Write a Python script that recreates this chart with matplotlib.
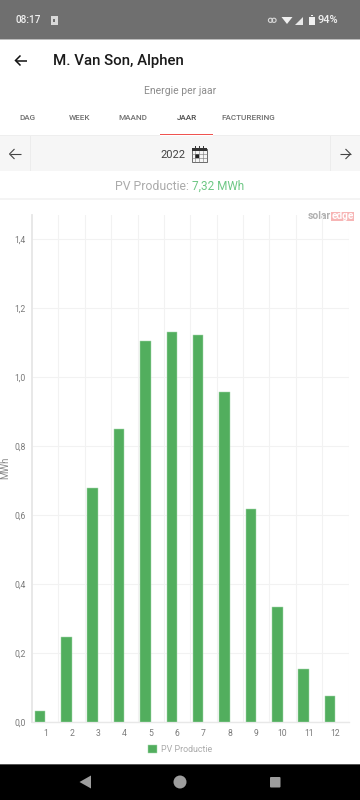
#!/usr/bin/env python3
"""Phone screenshot of the yearly PV production bar chart."""

import matplotlib
matplotlib.use("Agg")
import matplotlib.pyplot as plt
from matplotlib.patches import Rectangle, Circle, Polygon, FancyBboxPatch

plt.rcParams["font.family"] = ["Roboto", "DejaVu Sans"]

MONTHS = [1, 2, 3, 4, 5, 6, 7, 8, 9, 10, 11, 12]
PV_MWH = [0.034, 0.247, 0.68, 0.85, 1.106, 1.13, 1.123, 0.957, 0.619, 0.334, 0.156, 0.077]
Y_TICKS = [0.0, 0.2, 0.4, 0.6, 0.8, 1.0, 1.2, 1.4]
Y_LABELS = ["0,0", "0,2", "0,4", "0,6", "0,8", "1,0", "1,2", "1,4"]
TABS = ["DAG", "WEEK", "MAAND", "JAAR", "FACTURERING"]
TAB_X = [27, 80, 133, 187, 248.5]

GREEN = "#52AE5E"
GRID = "#F2F2F2"


def arrow(ui, x0, x1, y, color, lw, head=5):
    """Flat material style arrow from x0 to x1, tip at x1."""
    d = head if x1 < x0 else -head
    ui.plot([x0, x1], [y, y], color=color, lw=lw, solid_capstyle="butt")
    ui.plot([x1 + d, x1, x1 + d], [y - head, y, y + head], color=color, lw=lw,
            solid_joinstyle="miter", solid_capstyle="butt")


def draw_chrome(ui):
    # status bar
    ui.add_patch(Rectangle((0, 0), 360, 39, fc="#6F6F6F", ec="none"))
    ui.add_patch(Rectangle((0, 39), 360, 1, fc="#BDBDBD", ec="none"))
    ui.text(16, 20, "08:17", color="#F0F0F0", fontsize=7.2, va="center", weight="medium")
    ui.add_patch(Rectangle((50.5, 16), 7, 8.5, fc="#D8D8D8", ec="none"))
    ui.add_patch(Rectangle((53, 19), 2, 2.5, fc="#6F6F6F", ec="none"))
    # link, wifi, signal, battery
    ui.add_patch(Circle((270.5, 20.3), 2.1, fc="none", ec="#D8D8D8", lw=0.8))
    ui.add_patch(Circle((274, 20.3), 2.1, fc="none", ec="#D8D8D8", lw=0.8))
    ui.add_patch(Polygon([[281.5, 17], [292.5, 17], [287, 24]], fc="#F0F0F0", ec="none"))
    ui.add_patch(Polygon([[295, 24.5], [303, 24.5], [303, 16.5]], fc="#E8E8E8", ec="none"))
    ui.add_patch(Rectangle((309, 16.5), 5.5, 8, fc="#F0F0F0", ec="none"))
    ui.add_patch(Rectangle((310.5, 15.3), 2.5, 1.2, fc="#F0F0F0", ec="none"))
    ui.text(317.5, 20, "94%", color="#F0F0F0", fontsize=8, va="center", weight="medium")

    # header
    arrow(ui, 26.5, 15.5, 60.5, "#111111", 1.1)
    ui.text(53, 60.5, "M. Van Son, Alphen", color="#1A1A1A", fontsize=10.8, va="center", weight="medium")
    ui.text(180, 90.5, "Energie per jaar", color="#8C8C8C", fontsize=7.5, ha="center", va="center")

    # tabs
    for x, tab in zip(TAB_X, TABS):
        c = "#4A4A4A" if tab == "JAAR" else "#6E6E6E"
        ui.text(x, 117.7, tab, color=c, fontsize=5.9, ha="center", va="center", weight="medium")
    ui.add_patch(Rectangle((160, 133.5), 53, 1.5, fc="#EF5350", ec="none"))

    # date row
    ui.add_patch(Rectangle((0, 136), 360, 35, fc="#F6F6F6", ec="none"))
    ui.add_patch(Rectangle((0, 135), 160, 1, fc="#EEEEEE", ec="none"))
    ui.add_patch(Rectangle((213, 135), 147, 1, fc="#EEEEEE", ec="none"))
    for x in (29.5, 329.5):
        ui.add_patch(Rectangle((x, 136), 1.5, 35, fc="#ECECEC", ec="none"))
    arrow(ui, 20.5, 9.5, 154, "#444444", 0.8)
    arrow(ui, 339.5, 350.5, 154, "#444444", 0.8)
    ui.text(173, 154.5, "2022", color="#444444", fontsize=8, ha="center", va="center")
    # calendar icon
    ui.add_patch(Rectangle((191.5, 149), 15, 12.5, fc="#F6F6F6", ec="#555555", lw=0.6))
    ui.add_patch(Rectangle((191.5, 147.5), 15, 3.5, fc="#333333", ec="none"))
    for x in (195, 199, 203):
        ui.plot([x, x], [151, 161.5], color="#777777", lw=0.4)
        ui.plot([x, x], [146, 148], color="#333333", lw=0.7)
    for y in (154, 157.5):
        ui.plot([191.5, 206.5], [y, y], color="#777777", lw=0.4)
    ui.add_patch(Rectangle((195, 154), 4, 3.5, fc="#222222", ec="none"))

    # total
    ui.text(189.2, 186, "PV Productie:", color="#ABABAB", fontsize=8.8, ha="right", va="center")
    ui.text(191.5, 186, "7,32 MWh", color="#6DC784", fontsize=8.5, ha="left", va="center")
    ui.add_patch(Rectangle((0, 198), 360, 1.5, fc="#F4F4F4", ec="none"))

    # logo
    ui.text(331, 216, "solar", color="#B0B0B0", fontsize=7.4, ha="right", va="center", weight="bold")
    ui.add_patch(Rectangle((331, 211.5), 23, 9.5, fc="#F7B5B5", ec="none"))
    ui.text(342.5, 216, "edge", color="#FFFFFF", fontsize=7.2, ha="center", va="center", weight="bold")

    # y axis title
    ui.text(5.5, 468, "MWh", color="#8A8A8A", fontsize=7, rotation=90, ha="center", va="center")

    # navigation bar
    ui.add_patch(Rectangle((0, 764), 360, 1, fc="#555555", ec="none"))
    ui.add_patch(Rectangle((0, 765), 360, 35, fc="#000000", ec="none"))
    ui.add_patch(Polygon([[91, 775.5], [91, 788.5], [79.5, 782]], fc="#9E9E9E", ec="none"))
    ui.add_patch(Circle((180, 782), 6.5, fc="#9E9E9E", ec="none"))
    ui.add_patch(FancyBboxPatch((270, 777), 10.5, 10.5, boxstyle="round,pad=0,rounding_size=1",
                                fc="#9E9E9E", ec="none"))


def main():
    fig = plt.figure(figsize=(3.6, 8), dpi=100, facecolor="white")

    ui = fig.add_axes([0, 0, 1, 1])
    ui.set_xlim(0, 360)
    ui.set_ylim(800, 0)
    ui.axis("off")
    draw_chrome(ui)

    # plot area spans x 32..348.5, y 215..722.4 in screen pixels
    ax = fig.add_axes([32 / 360, (800 - 722.4) / 800, 316.5 / 360, 507.4 / 800])
    ax.patch.set_alpha(0)
    bars = ax.bar([m - 0.2 for m in MONTHS], PV_MWH, width=0.4, color=GREEN,
                  edgecolor="#A8D8AE", linewidth=0.35, label="PV Productie", zorder=3)
    ax.set_xlim(0.5, 12.5)
    ax.set_ylim(0, 1.4704)
    ax.set_yticks(Y_TICKS)
    ax.set_yticklabels(Y_LABELS)
    ax.set_xticks(MONTHS)
    ax.set_xticks([m + 0.5 for m in MONTHS], minor=True)
    ax.tick_params(axis="both", which="major", length=0, labelsize=6.2, labelcolor="#7A7A7A")
    ax.tick_params(axis="x", which="major", pad=5)
    ax.tick_params(axis="y", which="major", pad=4.5)
    ax.tick_params(axis="x", which="minor", length=0)
    ax.grid(axis="y", which="major", color=GRID, lw=0.75, zorder=0)
    ax.grid(axis="x", which="minor", color=GRID, lw=0.75, zorder=0)
    ax.set_axisbelow(True)
    for s in ("top", "right"):
        ax.spines[s].set_visible(False)
    ax.spines["left"].set_color("#E6E6E6")
    ax.spines["left"].set_linewidth(1.3)
    ax.spines["bottom"].set_color("#E8E8E8")
    ax.spines["bottom"].set_linewidth(1.0)

    fig.legend(handles=[bars], loc="center", bbox_to_anchor=(180 / 360, (800 - 749.5) / 800),
               frameon=False, fontsize=6.4, labelcolor="#ABABAB", handlelength=0.95,
               handleheight=0.95, handletextpad=0.45, borderpad=0)

    fig.savefig("out.png", dpi=100)


if __name__ == "__main__":
    main()
